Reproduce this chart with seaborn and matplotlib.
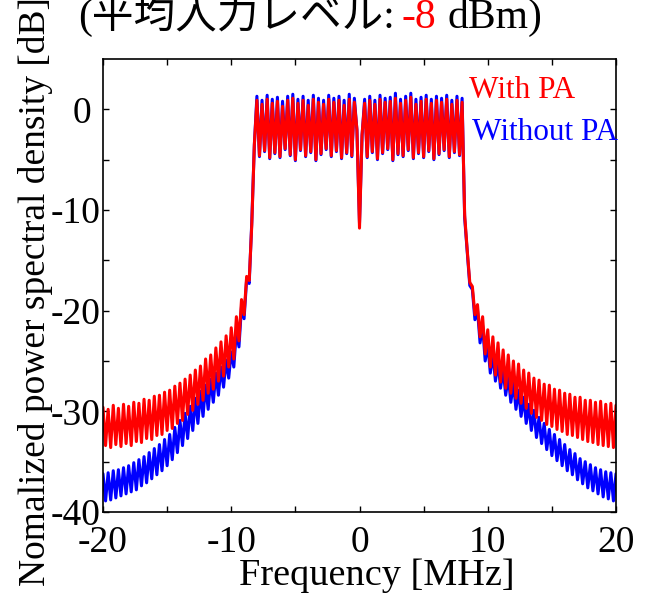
import numpy as np
import pandas as pd
import matplotlib
matplotlib.use("Agg")
import matplotlib.pyplot as plt
import matplotlib.transforms as mtransforms
import seaborn as sns

# ---------------- data ----------------
# ripple maxima and minima of each trace, on alternating frequency grids
freq_peak = np.round(np.arange(-20.0, 20.001, 0.4), 2)      # 101 points
freq_trough = np.round(np.arange(-19.8, 19.801, 0.4), 2)    # 100 points

with_pa_peak = [
    -29.6, -29.8, -29.4, -29.7, -29.3, -29.5, -29.1, -29.2, -28.8, -28.9, -28.5, -28.4,
    -28.1, -27.9, -27.5, -27.2, -26.8, -26.4, -25.9, -25.5, -24.8, -24.4, -23.7, -23.1,
    -22.5, -21.7, -20.6, -18.9, -16.6, -11.5,
    0.9, 0.5, 1.0, 0.6, 0.8, 0.3, 0.9, 1.1, 0.6, 0.9, 0.4, 1.0, 0.7, 0.5, 1.0, 0.7,
    0.9, 0.4, 1.0, 0.7,
    -11.8,
    0.6, 0.9, 0.5, 1.0, 0.7, 0.8, 1.1, 0.6, 0.9, 1.2, 0.5, 0.8, 1.0, 0.6, 0.9, 0.7,
    1.0, 0.5, 0.9, 0.7,
    -14.0, -17.6, -19.4, -20.6, -21.9, -22.6, -23.2, -23.9, -24.4, -25.0, -25.3, -25.9,
    -26.2, -26.7, -26.9, -27.3, -27.4, -27.8, -27.9, -28.2, -28.3, -28.6, -28.6, -28.9,
    -28.9, -29.1, -29.0, -29.3, -29.2, -29.4,
]
with_pa_trough = [
    -33.4, -33.6, -33.3, -33.5, -33.2, -33.4, -33.0, -33.1, -32.7, -32.8, -32.4, -32.3,
    -31.9, -31.7, -31.2, -30.9, -30.3, -29.9, -29.3, -28.9, -28.2, -27.8, -27.0, -26.5,
    -25.6, -24.8, -23.0, -20.4, -17.0,
    -3.5, -4.6, -4.1, -4.8, -4.3, -4.7, -3.9, -4.5, -5.0, -4.0, -4.6, -4.2, -5.0, -4.4,
    -3.9, -4.6, -4.1, -4.8, -4.3, -4.6,
    -2.0, -2.5,
    -4.7, -4.2, -4.9, -4.3, -3.9, -5.0, -4.4, -4.6, -4.0, -4.8, -4.3, -4.7, -4.1, -4.9,
    -4.4, -4.0, -4.7, -4.2, -4.5,
    -10.5, -17.2, -20.4, -22.6, -24.3, -25.6, -26.4, -27.1, -27.7, -28.2, -28.7, -29.2,
    -29.7, -30.2, -30.6, -30.9, -31.3, -31.5, -31.8, -32.0, -32.3, -32.4, -32.6, -32.8,
    -33.0, -33.1, -33.3, -33.4, -33.5, -33.6,
]
without_pa_peak = [
    -36.2, -36.1, -35.9, -35.8, -35.6, -35.4, -35.1, -34.8, -34.5, -34.1, -33.7, -33.3,
    -32.8, -32.3, -31.6, -30.9, -30.2, -29.5, -28.7, -28.0, -27.4, -26.8, -26.2, -25.6,
    -24.9, -24.1, -22.0, -19.6, -16.9, -11.2,
    1.3, 0.9, 1.4, 1.0, 1.2, 0.8, 1.3, 1.5, 1.0, 1.3, 0.9, 1.4, 1.1, 0.9, 1.4, 1.1,
    1.3, 0.9, 1.5, 1.1,
    -11.3,
    1.0, 1.3, 0.9, 1.4, 1.1, 1.2, 1.6, 1.0, 1.3, 1.6, 1.0, 1.2, 1.4, 1.0, 1.3, 1.1,
    1.4, 0.9, 1.3, 1.1,
    -14.2, -17.9, -19.9, -21.5, -23.3, -24.3, -25.1, -25.8, -26.5, -27.2, -27.9, -28.6,
    -29.3, -29.9, -30.6, -31.2, -31.8, -32.3, -32.8, -33.3, -33.8, -34.2, -34.7, -35.0,
    -35.3, -35.6, -35.8, -36.0, -36.1, -36.2,
]
without_pa_trough = [
    -38.9, -38.8, -38.6, -38.4, -38.2, -38.0, -37.8, -37.4, -37.1, -36.7, -36.3, -35.9,
    -35.4, -34.8, -34.1, -33.4, -32.7, -31.9, -31.2, -30.5, -29.8, -29.1, -28.4, -27.6,
    -26.7, -25.6, -23.6, -20.8, -17.3,
    -3.6, -4.7, -4.2, -4.9, -4.4, -4.8, -4.0, -4.6, -5.1, -4.1, -4.7, -4.3, -5.1, -4.5,
    -4.0, -4.7, -4.2, -4.9, -4.4, -4.7,
    -2.1, -2.6,
    -4.8, -4.3, -5.0, -4.4, -4.0, -5.1, -4.5, -4.7, -4.1, -4.9, -4.4, -4.8, -4.2, -5.0,
    -4.5, -4.1, -4.8, -4.3, -4.6,
    -10.8, -17.5, -20.9, -23.2, -25.0, -26.2, -27.0, -27.7, -28.4, -29.1, -29.8, -30.5,
    -31.2, -31.9, -32.6, -33.2, -33.8, -34.4, -34.9, -35.4, -35.9, -36.3, -36.8, -37.2,
    -37.6, -37.9, -38.2, -38.5, -38.7, -38.9,
]

series_names = ["Without PA", "With PA"]
series_colors = {"Without PA": "#0000ff", "With PA": "#ff0000"}
x_ticks = [-20, -10, 0, 10, 20]
y_ticks = [-40, -30, -20, -10, 0]
x_minor = [-15, -5, 5, 15]
y_minor = [-35, -25, -15, -5]

frames = []
for name, pk, tr in [("Without PA", without_pa_peak, without_pa_trough),
                     ("With PA", with_pa_peak, with_pa_trough)]:
    frames.append(pd.DataFrame({"freq": freq_peak, "psd": pk, "series": name}))
    frames.append(pd.DataFrame({"freq": freq_trough, "psd": tr, "series": name}))
df = pd.concat(frames, ignore_index=True).sort_values(["series", "freq"])

# ---------------- style ----------------
sns.set_theme(style="white")
plt.rcParams["font.family"] = ["Liberation Serif", "Noto Sans CJK JP"]
plt.rcParams["axes.unicode_minus"] = False

W, H = 662, 593
fig = plt.figure(figsize=(W / 100, H / 100), dpi=100)
ax = fig.add_axes([103 / W, 1 - 512 / H, 513 / W, 453 / H])

sns.lineplot(data=df, x="freq", y="psd", hue="series", hue_order=series_names,
             palette=series_colors, estimator=None, sort=True, legend=False,
             linewidth=2.2, ax=ax)

ax.set_xlim(-20, 20)
ax.set_ylim(-40, 5)
ax.set_xticks(x_ticks)
ax.set_yticks(y_ticks)
ax.set_xticks(x_minor, minor=True)
ax.set_yticks(y_minor, minor=True)
ax.tick_params(which="both", direction="in", length=4.5, width=1.0, color="black",
               top=True, right=True, bottom=True, left=True)
ax.tick_params(axis="x", which="major", labelsize=27, pad=9.5, colors="black")
ax.tick_params(axis="y", which="major", labelsize=27, pad=2, colors="black")
for s in ax.spines.values():
    s.set_color("black")
    s.set_linewidth(1.2)

# the single-digit "0" label sits a little further left in the reference
zero_shift = mtransforms.ScaledTranslation(-9 / 100, 0, fig.dpi_scale_trans)
for lab in ax.get_yticklabels():
    if lab.get_text() == "0":
        lab.set_transform(lab.get_transform() + zero_shift)

ax.set_xlabel("Frequency [MHz]", fontsize=27.5, color="black")
ax.set_ylabel("Nomalized power spectral density [dB]", fontsize=27, color="black")
ax.xaxis.set_label_coords((377 - 103) / 513, -0.1025)
ax.yaxis.set_label_coords((53 - 103) / 513, (512 - 292) / 453)

# series labels
fig.text(469 / W, 1 - 98 / H, "With PA", color="#ff0000", fontsize=22.5,
         ha="left", va="baseline")
fig.text(472 / W, 1 - 140 / H, "Without PA", color="#0000ff", fontsize=22.5,
         ha="left", va="baseline")

# title (partially cut off at the top, as in the reference)
renderer = fig.canvas.get_renderer()
base_y = 1 - 28 / H
t1 = fig.text(78 / W, base_y, "(平均入力レベル:", fontsize=30, color="black",
              ha="left", va="baseline")
x1 = t1.get_window_extent(renderer).x1
t2 = fig.text((x1 + 7) / W, base_y, "-8", fontsize=30, color="#ff0000",
              ha="left", va="baseline")
x2 = t2.get_window_extent(renderer).x1
fig.text((x2 + 11) / W, base_y, "dBm)", fontsize=30, color="black",
         ha="left", va="baseline")

fig.savefig("out.png", dpi=100)
